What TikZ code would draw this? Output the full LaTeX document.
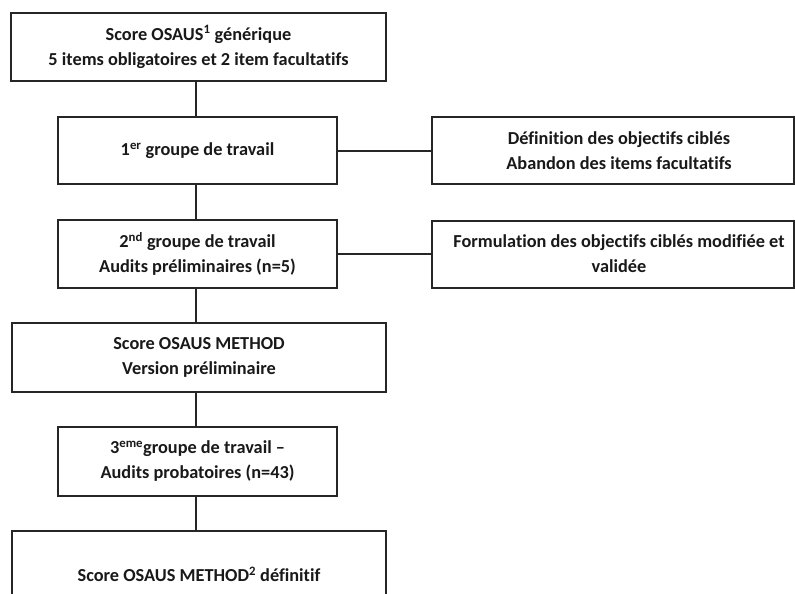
\documentclass[tikz,border=0pt]{standalone}
\usepackage{fontspec}
\setmainfont{Carlito}[Ligatures={NoCommon}]
\begin{document}
\begin{tikzpicture}[x=1pt,y=-1pt,
  box/.style={draw=black!85,line width=2pt,rectangle,inner sep=0pt},
  txt/.style={align=center,font=\fontsize{18.3}{25}\selectfont\bfseries,text=black!90},
  conn/.style={draw=black!85,line width=2pt}]
\useasboundingbox[fill=white] (0,0) rectangle (795,594);
\node[box,txt,minimum width=375pt,minimum height=68pt] (b1) at (198.5,47) {Score OSAUS\textsuperscript{1} générique\\5 items obligatoires et 2 item facultatifs};
\node[box,txt,minimum width=279pt,minimum height=67pt] (b2) at (197.5,150.5) {1\textsuperscript{er} groupe de travail};
\node[box,minimum width=362pt,minimum height=67pt] (r1) at (613,150.5) {};
\node[txt] (t1) at (619,150.5) {Définition des objectifs ciblés\\Abandon des items facultatifs};
\node[box,txt,minimum width=279pt,minimum height=68pt] (b3) at (197.5,254) {2\textsuperscript{nd} groupe de travail\\Audits préliminaires (n=5)};
\node[box,minimum width=362pt,minimum height=67pt] (r2) at (613,254) {};
\node[txt] (t2) at (619,254) {Formulation des objectifs ciblés modifiée et\\validée};
\node[box,txt,minimum width=374pt,minimum height=69pt] (b4) at (199,357.5) {Score OSAUS METHOD\\Version préliminaire};
\node[box,txt,minimum width=279pt,minimum height=69pt] (b5) at (197.5,461.5) {3\textsuperscript{eme}groupe de travail --\\Audits probatoires (n=43)};
\node[box,txt,minimum width=374pt,minimum height=86pt] (b6) at (199,574) {Score OSAUS METHOD\textsuperscript{2} définitif};
\draw[conn] (b1.south -| 196,0) -- (b2.north -| 196,0);
\draw[conn] (b2.south -| 196,0) -- (b3.north -| 196,0);
\draw[conn] (b3.south -| 196,0) -- (b4.north -| 196,0);
\draw[conn] (b4.south -| 196,0) -- (b5.north -| 196,0);
\draw[conn] (b5.south -| 196,0) -- (b6.north -| 196,0);
\draw[conn] (b2.east) -- (r1.west);
\draw[conn] (b3.east) -- (r2.west);
\end{tikzpicture}
\end{document}
